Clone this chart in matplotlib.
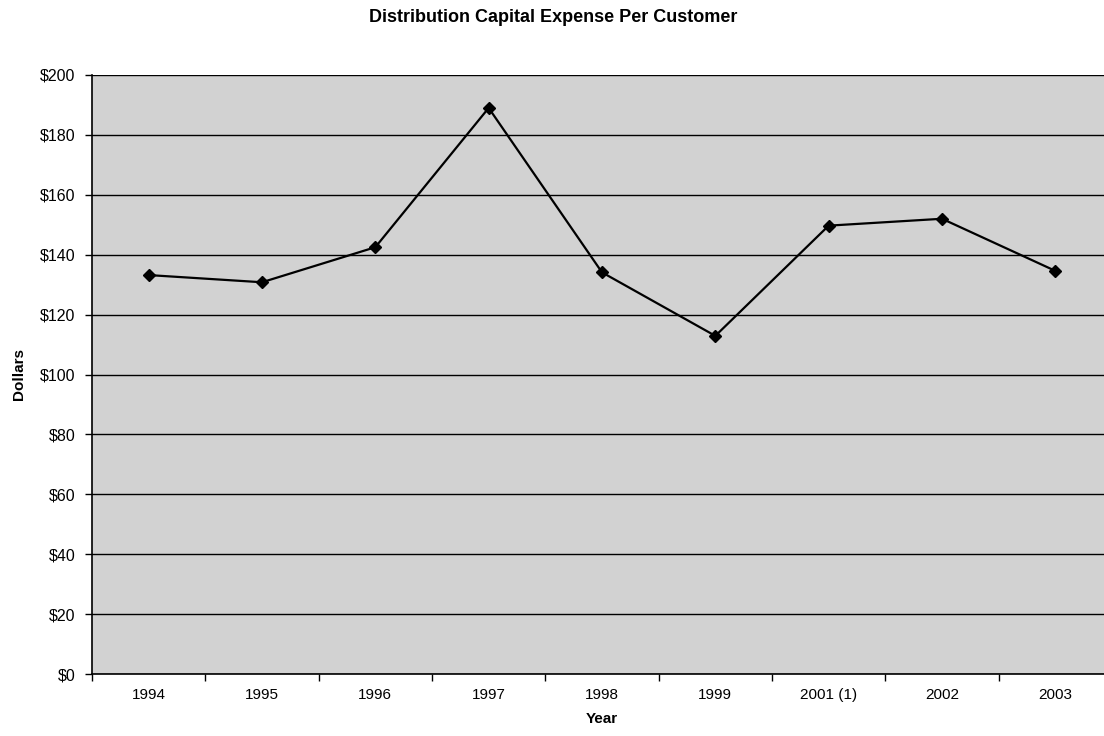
import matplotlib
matplotlib.use("Agg")
import matplotlib.pyplot as plt
from matplotlib.ticker import FuncFormatter, FixedLocator

plt.rcParams['font.family'] = ['Liberation Sans', 'DejaVu Sans']

years = ["1994", "1995", "1996", "1997", "1998", "1999", "2001 (1)", "2002", "2003"]
expense = [133.2, 130.8, 142.5, 189.0, 134.1, 112.9, 149.7, 152.0, 134.6]
y_ticks = [0, 20, 40, 60, 80, 100, 120, 140, 160, 180, 200]

fig = plt.figure(figsize=(11.04, 7.36), dpi=100)
ax = fig.add_axes([92 / 1104, 1 - 674 / 736, 1020 / 1104, 599 / 736])
ax.set_facecolor('#d2d2d2')

x = list(range(len(years)))
ax.plot(x, expense, color='black', linewidth=1.6, marker='D', markersize=6,
        markerfacecolor='black', markeredgecolor='black', zorder=3)

ax.set_xlim(-0.5, len(years) - 0.5)
ax.set_ylim(0, 200)

ax.set_yticks(y_ticks)
ax.yaxis.set_major_formatter(FuncFormatter(lambda v, p: f"${v:.0f}"))
ax.grid(axis='y', color='black', linewidth=1.0)
ax.set_axisbelow(True)

# category labels centred, tick marks on category boundaries
ax.set_xticks(x)
ax.set_xticklabels(years)
ax.tick_params(axis='x', which='major', length=0, pad=10, labelsize=11)
ax.xaxis.set_minor_locator(FixedLocator([i - 0.5 for i in range(len(years) + 1)]))
ax.tick_params(axis='x', which='minor', length=5, width=1, direction='out')
ax.tick_params(axis='y', length=5, width=1, direction='out', pad=7, labelsize=11.5)

for side in ('top', 'right'):
    ax.spines[side].set_visible(False)
for side in ('left', 'bottom'):
    ax.spines[side].set_linewidth(1.2)

ax.set_xlabel("Year", fontsize=11, fontweight='bold', labelpad=7)
ax.set_ylabel("Dollars", fontsize=11, fontweight='bold', labelpad=10)

fig.text(553 / 1104, 1 - 18 / 736, "Distribution Capital Expense Per Customer",
         ha='center', va='center', fontsize=13, fontweight='bold')

fig.savefig("out.png", dpi=100)
